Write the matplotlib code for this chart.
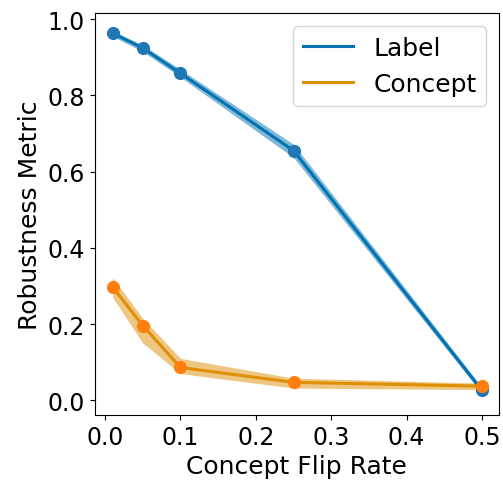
import matplotlib
matplotlib.use("Agg")
import matplotlib.pyplot as plt
import numpy as np

flip_rates = [0.01, 0.05, 0.1, 0.25, 0.5]
label_mean = [0.963, 0.924, 0.858, 0.655, 0.026]
label_lo = [0.955, 0.915, 0.848, 0.637, 0.018]
label_hi = [0.970, 0.932, 0.868, 0.672, 0.034]
concept_mean = [0.297, 0.196, 0.086, 0.047, 0.037]
concept_lo = [0.270, 0.150, 0.070, 0.032, 0.028]
concept_hi = [0.322, 0.215, 0.110, 0.058, 0.045]

plt.rcParams['font.family'] = ['DejaVu Sans']
fig, ax = plt.subplots(figsize=(5.03, 4.85), dpi=100)

blue_line = "#0173b2"
orange_line = "#de8f05"

ax.fill_between(flip_rates, label_lo, label_hi, color=blue_line, alpha=0.5, lw=0)
ax.plot(flip_rates, label_mean, color=blue_line, lw=2.2, label="Label")
ax.scatter(flip_rates, label_mean, color="#1f77b4", s=72, zorder=3)

ax.fill_between(flip_rates, concept_lo, concept_hi, color=orange_line, alpha=0.5, lw=0)
ax.plot(flip_rates, concept_mean, color=orange_line, lw=2.2, label="Concept")
ax.scatter(flip_rates, concept_mean, color="#ff7f0e", s=72, zorder=3)

ax.set_xlabel("Concept Flip Rate", fontsize=18)
ax.set_ylabel("Robustness Metric", fontsize=18)
ax.tick_params(labelsize=17)
ax.set_xticks([0.0, 0.1, 0.2, 0.3, 0.4, 0.5])
ax.set_yticks([0.0, 0.2, 0.4, 0.6, 0.8, 1.0])
ax.set_xlim(-0.014, 0.5226)
ax.set_ylim(-0.039, 1.016)
ax.legend(fontsize=18, loc="upper right")

fig.subplots_adjust(left=0.188, right=0.992, top=0.971, bottom=0.142)
fig.savefig("out.png", dpi=100)
